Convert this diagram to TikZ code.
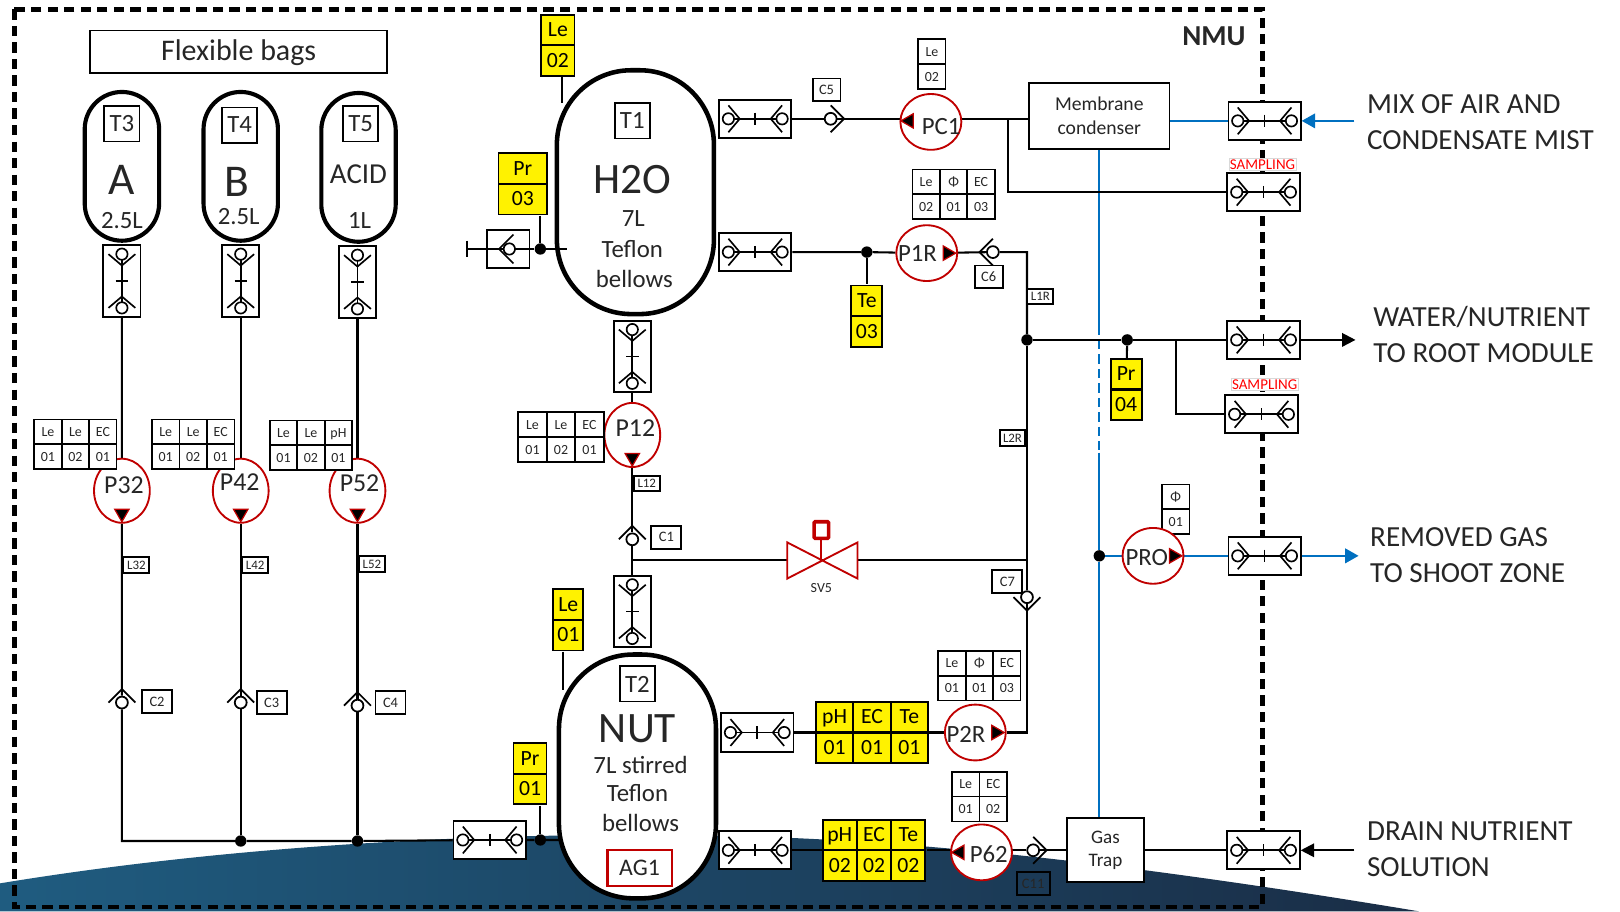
\documentclass[tikz,border=0pt]{standalone}
\usepackage{fontspec}
\setmainfont{Carlito}
\usetikzlibrary{arrows.meta,backgrounds,matrix,shapes.geometric}

\definecolor{inkdark}{HTML}{262626}
\definecolor{pumpred}{HTML}{C00000}
\definecolor{gasblue}{HTML}{0070C0}
\definecolor{hillleft}{HTML}{1F5C80}
\definecolor{hillmid}{HTML}{1E4C6E}
\definecolor{hillright}{HTML}{1A2D46}
\newcommand{\fsz}[1]{\fontsize{#1}{#1}\selectfont}

\newcommand{\couplingglyphh}{%
    \begin{scope}[shift={(path picture bounding box.center)},line width=1.6pt]
        \draw (-21,0) -- (21,0);
        \draw (0,-6) -- (0,6);
        \draw (-26,-13) -- (-15,0) -- (-26,13);
        \draw (26,-13) -- (15,0) -- (26,13);
        \draw[fill=white] (-26,0) circle[radius=5.5];
        \draw[fill=white] (26,0) circle[radius=5.5];
    \end{scope}}
\newcommand{\couplingglyphv}{%
    \begin{scope}[shift={(path picture bounding box.center)},line width=1.6pt]
        \draw (0,-21) -- (0,21);
        \draw (-6,0) -- (6,0);
        \draw (-13,-26) -- (0,-15) -- (13,-26);
        \draw (-13,26) -- (0,15) -- (13,26);
        \draw[fill=white] (0,-26) circle[radius=5.5];
        \draw[fill=white] (0,26) circle[radius=5.5];
    \end{scope}}
\newcommand{\checkvalve}[3]{%
    \node[checkball] (#1) at (#2) {};
    \draw[line width=1.7pt,shift={(#1)},rotate=#3] (0,-13) -- (13,0) -- (0,13);}

\tikzset{
    pipe/.style={line width=2pt},
    gaspipe/.style={line width=2.2pt,draw=gasblue},
    framedash/.style={line width=4.4pt,dash pattern=on 10pt off 6pt},
    outbox/.style={draw,fill=white,line width=1.8pt,inner sep=0pt},
    couplingh/.style={outbox,minimum width=70pt,minimum height=37pt,path picture={\couplingglyphh}},
    couplingv/.style={outbox,minimum width=36pt,minimum height=69pt,path picture={\couplingglyphv}},
    checkball/.style={circle,draw,fill=white,line width=1.7pt,minimum size=11.5pt,inner sep=0pt},
    junction/.style={circle,fill=black,minimum size=11pt,inner sep=0pt},
    tankbig/.style={draw,fill=white,line width=4.4pt,rounded corners=72pt,minimum width=152pt,minimum height=236pt},
    bag/.style={draw,fill=white,line width=4pt,rounded corners=36pt,minimum width=72pt,minimum height=144pt},
    pump/.style={ellipse,draw=pumpred,fill=white,line width=1.8pt,inner sep=0pt},
    pumptall/.style={pump,minimum width=54pt,minimum height=62pt},
    pumpround/.style={pump,minimum width=59pt,minimum height=54pt},
    pumpmark/.style={regular polygon,regular polygon sides=3,draw=pumpred,fill=black,line width=1.2pt,inner sep=0pt,minimum size=16pt,shape border rotate=#1},
    txt/.style={inner sep=0pt,text=inkdark,font=\fsz{#1}},
    tanktag/.style={outbox,text=inkdark,minimum size=34pt,font=\fsz{24}},
    tag/.style={outbox,text=inkdark,minimum width=29pt,minimum height=22pt,font=\fsz{14}},
    linetag/.style={outbox,text=inkdark,minimum width=25pt,minimum height=15pt,font=\fsz{12.5}},
    sidetext/.style={anchor=west,align=left,inner sep=0pt,text=inkdark,font=\fontsize{28.2}{35}\selectfont},
    sampling/.style={draw=black!15,line width=0.5pt,fill=white,text=red,inner sep=1pt,font=\fsz{14.5}},
    whitetab/.style={matrix of nodes,inner sep=0pt,column sep=-1.5pt,row sep=-1.5pt,
        nodes={draw,fill=white,line width=1.6pt,anchor=center,inner sep=0pt,text=inkdark,minimum width=#1,minimum height=24pt,
            text height=9pt,text depth=0pt,font=\fsz{13.5}}},
    whitetab/.default=26.5pt,
    yellowtab/.style={matrix of nodes,inner sep=0pt,column sep=-1.6pt,row sep=-1.6pt,
        nodes={draw,fill=yellow,line width=1.8pt,anchor=center,inner sep=0pt,text=black,minimum width=#1,minimum height=29.5pt,
            text height=13pt,text depth=0pt,font=\fsz{21}}},
    yellowtab/.default=32pt
}

\begin{document}
\begin{tikzpicture}[x=1pt,y=-1pt]
    \useasboundingbox (0,0) rectangle (1568,882);

    \node[outbox,minimum width=287pt,minimum height=41pt,font=\fsz{29},text=inkdark,text height=18pt,text depth=1pt] (bagstitle) at (231,50) {Flexible bags};
    \node[txt=28,font=\fsz{28}\bfseries] (nmu) at (1175,35) {NMU};

    \node[bag] (T3) at (118,161) {};
    \node[bag] (T4) at (233,161) {};
    \node[bag] (T5) at (347,162) {};
    \node[tanktag] (tagT3) at (118,120) {T3};
    \node[tanktag] (tagT4) at (232,121) {T4};
    \node[tanktag] (tagT5) at (349,120) {T5};
    \node[txt=44] (labA) at (118,174) {A};
    \node[txt=44] (labB) at (229,176) {B};
    \node[txt=28] (labAcid) at (347,169) {ACID};
    \node[txt=24] (volA) at (118,213) {2.5L};
    \node[txt=24] (volB) at (231,210) {2.5L};
    \node[txt=24] (volAcid) at (348,213) {1L};
    \node[couplingv] (cplT3) at (118,272) {};
    \node[couplingv] (cplT4) at (233,272) {};
    \node[couplingv] (cplT5) at (346,273) {};

    \node[pumptall] (P32) at (118,475) {};
    \node[pumptall] (P42) at (233,475) {};
    \node[pumptall] (P52) at (346,475) {};
    \node[txt=25] (nameP32) at (120,470) {P32};
    \node[txt=25] (nameP42) at (232,467) {P42};
    \node[txt=25] (nameP52) at (348,468) {P52};
    \node[pumpmark=180] (markP32) at (118,497) {};
    \node[pumpmark=180] (markP42) at (233,497) {};
    \node[pumpmark=180] (markP52) at (346,497) {};
    \matrix (tabP32) [whitetab] at (73,430) {Le & Le & EC \\ 01 & 02 & 01 \\};
    \matrix (tabP42) [whitetab] at (187,430) {Le & Le & EC \\ 01 & 02 & 01 \\};
    \matrix (tabP52) [whitetab] at (301,431) {Le & Le & pH \\ 01 & 02 & 01 \\};
    \node[linetag] (L32) at (132,547) {L32};
    \node[linetag] (L42) at (247,547) {L42};
    \node[linetag] (L52) at (360,546) {L52};
    \checkvalve{C2v}{118,680}{90}
    \checkvalve{C3v}{233,680}{90}
    \checkvalve{C4v}{346,683}{90}
    \node[tag] (C2) at (152,679) {C2};
    \node[tag] (C3) at (263,680) {C3};
    \node[tag] (C4) at (378,680) {C4};
    \node[junction] (dotB) at (233,814) {};
    \node[junction] (dotC) at (346,814) {};
    \node[couplingh] (cplMain) at (474,813) {};
    \node[junction] (dotT2) at (523,813) {};
    \coordinate (cornerA) at (118,814);

    \node[tankbig] (T1) at (615,186) {};
    \node[tanktag] (tagT1) at (612,117) {T1};
    \node[txt=42] (labH2O) at (612,174) {H2O};
    \node[txt=24] (volT1) at (613,212) {7L};
    \node[txt=24] (matT1) at (612,241) {Teflon};
    \node[txt=24] (belT1) at (614,270) {bellows};
    \matrix (yLeB) [yellowtab] at (540,44) {Le \\ 02 \\};
    \matrix (yPrC) [yellowtab=47pt] at (506,178) {Pr \\ 03 \\};
    \node[outbox,minimum width=41pt,minimum height=36pt,path picture={
        \begin{scope}[shift={(path picture bounding box.center)},line width=1.6pt]
            \draw (-21,0) -- (21,0);
            \draw (5,-14) -- (-9,0) -- (5,14);
            \draw[fill=white] (1,0) circle[radius=5.5];
        \end{scope}}] (cplVent) at (492,241) {};
    \coordinate (ventEnd) at (452,241);
    \node[junction] (dotT1) at (523,241) {};
    \coordinate (stubT1) at (549,241);
    \coordinate (leBend) at (544,100);
    \draw[pipe] (ventEnd) -- (cplVent);
    \draw[pipe] (452,233) -- (452,249);
    \draw[pipe] (dotT1) -- (stubT1);
    \draw[pipe] (yLeB.south -| leBend) -- (leBend);

    \node[couplingh] (cplT1a) at (731,115) {};
    \node[couplingh] (cplT1b) at (731,244) {};
    \checkvalve{C5v}{804,115}{0}
    \node[tag,minimum width=27pt] (C5) at (800,87) {C5};
    \node[pumpround] (PC1) at (901,118) {};
    \node[txt=24] (namePC1) at (911,122) {PC1};
    \node[pumpmark=90] (markPC1) at (880,117) {};
    \matrix (tabPC1) [whitetab] at (902,62) {Le \\ 02 \\};
    \node[outbox,minimum width=136pt,minimum height=64pt,align=center,text=inkdark,font=\fontsize{19}{23}\selectfont] (cond) at (1064,112) {Membrane\\condenser};
    \node[junction] (dotTe) at (839,244) {};
    \matrix (yTeC) [yellowtab=30pt] at (839,306) {Te \\ 03 \\};
    \node[pumpround] (P1R) at (897,245) {};
    \node[txt=24] (nameP1R) at (888,245) {P1R};
    \node[pumpmark=270] (markP1R) at (917,245) {};
    \matrix (tabP1R) [whitetab] at (923,188) {Le & Φ & EC \\ 02 & 01 & 03 \\};
    \checkvalve{C6v}{961,244}{180}
    \node[tag,minimum width=27pt] (C6) at (957,268) {C6};
    \coordinate (cornerR) at (994,244);
    \node[linetag] (L1R) at (1007,287) {L1R};
    \node[junction] (dotR) at (994,329) {};
    \node[linetag] (L2R) at (980,424) {L2R};

    \node[couplingv] (cplT1c) at (612,345) {};
    \node[pumptall] (P12) at (612,421) {};
    \node[txt=25] (nameP12) at (615,414) {P12};
    \node[pumpmark=180] (markP12) at (612,443) {};
    \matrix (tabP12) [whitetab=27.5pt] at (543,423) {Le & Le & EC \\ 01 & 02 & 01 \\};
    \node[linetag] (L12) at (626,468) {L12};
    \checkvalve{C1v}{612,522}{90}
    \node[tag] (C1) at (645,520) {C1};
    \coordinate (teeSV) at (612,542);
    \coordinate (teeRight) at (994,542);
    \coordinate (SV5) at (795,542);
    \draw[fill=white,draw=pumpred,line width=1.8pt] (762,525) -- (830,560) -- (830,525) -- (762,560) -- cycle;
    \node[draw=pumpred,fill=white,line width=3.4pt,rounded corners=1pt,minimum width=14pt,minimum height=16pt,inner sep=0pt] (SV5head) at (795,513) {};
    \draw[draw=pumpred,line width=1.8pt] (SV5head) -- (SV5);
    \node[txt=13.5] (nameSV5) at (795,569) {SV5};
    \checkvalve{C7v}{994,578}{270}
    \node[tag] (C7) at (975,563) {C7};
    \node[couplingv] (cplT2) at (612,592) {};

    \node[tankbig] (T2) at (617,751.5) {};
    \node[tanktag] (tagT2) at (617,662) {T2};
    \node[txt=42] (labNUT) at (617,705) {NUT};
    \node[txt=24] (volT2) at (620,740) {7L stirred};
    \node[txt=24] (matT2) at (617,768) {Teflon};
    \node[txt=24] (belT2) at (620,797) {bellows};
    \node[draw=pumpred,fill=white,line width=2pt,minimum width=62pt,minimum height=35pt,inner sep=0pt,text=inkdark,font=\fsz{23}] (AG1) at (619,840) {AG1};
    \matrix (yLeA) [yellowtab=29pt] at (550,600) {Le \\ 01 \\};
    \matrix (yPrA) [yellowtab] at (513,749) {Pr \\ 01 \\};
    \coordinate (leAend) at (545,668);
    \draw[pipe] (yLeA.south -| leAend) -- (leAend);

    \node[couplingh] (cplT2a) at (733,709) {};
    \node[couplingh] (cplT2b) at (731,823) {};
    \matrix (yT2a) [yellowtab=36pt] at (844,709) {pH & EC & Te \\ 01 & 01 & 01 \\};
    \matrix (yT2b) [yellowtab=33pt] at (846,823) {pH & EC & Te \\ 02 & 02 & 02 \\};
    \node[pumpround] (P2R) at (944,709) {};
    \node[txt=24] (nameP2R) at (935,711) {P2R};
    \node[pumpmark=270] (markP2R) at (964,709) {};
    \matrix (tabP2R) [whitetab] at (948,654) {Le & Φ & EC \\ 01 & 01 & 03 \\};
    \coordinate (cornerS) at (994,709);
    \node[pumpround] (P62) at (950,825) {};
    \node[txt=24] (nameP62) at (957,827) {P62};
    \node[pumpmark=90] (markP62) at (929,825) {};
    \matrix (tabP62) [whitetab] at (948,771) {Le & EC \\ 01 & 02 \\};
    \checkvalve{C11v}{1000,823}{0}
    \node[draw,line width=1.8pt,minimum width=32pt,minimum height=22pt,inner sep=0pt,text=inkdark,font=\fsz{14}] (C11) at (1000,855) {C11};
    \node[outbox,minimum width=74pt,minimum height=62pt,align=center,text=inkdark,font=\fontsize{18.5}{23}\selectfont] (gas) at (1070,823) {Gas\\Trap};

    \node[couplingh] (cplMix) at (1224,117) {};
    \node[couplingh] (cplSampA) at (1223,186) {};
    \node[couplingh] (cplRoot) at (1223,329) {};
    \node[couplingh] (cplSampB) at (1221,401) {};
    \node[couplingh] (cplShoot) at (1224,538) {};
    \node[couplingh] (cplDrain) at (1223,823) {};
    \node[sampling] (sampA) at (1222,159) {SAMPLING};
    \node[sampling] (sampB) at (1224,372) {SAMPLING};
    \node[junction] (dotPr) at (1091,329) {};
    \matrix (yPrB) [yellowtab=30pt] at (1090,377) {Pr \\ 04 \\};
    \coordinate (teeSamp) at (1138,329);
    \coordinate (teeCond) at (976,115);
    \matrix (tabPRO) [whitetab] at (1138,493) {Φ \\ 01 \\};
    \node[pumpround] (PRO) at (1116,538) {};
    \node[txt=24] (namePRO) at (1110,540) {PRO};
    \node[pumpmark=270] (markPRO) at (1136,538) {};
    \node[junction] (dotGas) at (1064,538) {};
    \coordinate (gasDashA) at (1064,315);
    \coordinate (gasDashB) at (1064,438);

    \coordinate (inMix) at (1311,117);
    \coordinate (outRoot) at (1312,329);
    \coordinate (outShoot) at (1315,538);
    \coordinate (inDrain) at (1311,823);
    \node[sidetext] (textMix) at (1323,118) {MIX OF AIR AND\\CONDENSATE  MIST};
    \node[sidetext] (textRoot) at (1329,324) {WATER/NUTRIENT\\TO ROOT MODULE};
    \node[sidetext] (textShoot) at (1326,537) {REMOVED GAS\\TO SHOOT ZONE};
    \node[sidetext] (textDrain) at (1323,822) {DRAIN NUTRIENT\\SOLUTION};

    \begin{scope}[on background layer]
        \shade[left color=hillleft,middle color=hillmid,right color=hillright] (0,882) -- (0,855) .. controls (200,822) and (420,808) .. (620,808) .. controls (800,808) and (1000,820) .. (1373,882) -- cycle;
        \draw[framedash] (14,9) rectangle (1222,878);

        \draw[pipe] (cplT3) -- (P32) -- (C2v) -- (cornerA) -- (dotB) -- (dotC) -- (cplMain) -- (dotT2) -- (dotT2 -| T2);
        \draw[pipe] (cplT4) -- (P42) -- (C3v) -- (dotB);
        \draw[pipe] (cplT5) -- (P52) -- (C4v) -- (dotC);
        \draw[pipe] (yPrC.south -| dotT1) -- (dotT1) -- (cplVent);
        \draw[pipe] (yPrA.south -| dotT2) -- (dotT2);

        \draw[gaspipe] (cond) -- (gasDashA);
        \draw[gaspipe,dash pattern=on 9pt off 5pt] (gasDashA) -- (gasDashB);
        \draw[gaspipe] (gasDashB) -- (dotGas) -- (dotGas |- gas.north);
        \draw[gaspipe] (dotGas) -- (PRO) -- (cplShoot);
        \draw[gaspipe,-{Triangle[length=13pt,width=14pt]}] (cplShoot) -- (outShoot);
        \draw[gaspipe] (cond.east |- cplMix) -- (cplMix);
        \draw[gaspipe,-{Triangle[length=13pt,width=14pt]}] (inMix) -- (cplMix);

        \draw[pipe] (cplT1a) -- (C5v) -- (C5v -| PC1) -- (C5v -| cond.west);
        \draw[pipe] (teeCond) |- (cplSampA);
        \draw[pipe] (cplT1b) -- (dotTe) -- (P1R) -- (C6v) -- (cornerR) -- (dotR);
        \draw[pipe] (dotTe) -- (yTeC);
        \draw[pipe] (dotR) -- (dotPr) -- (cplRoot);
        \draw[pipe,-{Triangle[length=13pt,width=13pt]}] (cplRoot) -- (outRoot);
        \draw[pipe] (dotPr) -- (yPrB);
        \draw[pipe] (teeSamp) |- (cplSampB);
        \draw[pipe] (dotR) -- (C7v) -- (cornerS) -- (P2R) -- (yT2a) -- (cplT2a);

        \draw[pipe] (cplT1c) -- (P12) -- (C1v) -- (cplT2);
        \draw[pipe] (teeSV) -- (SV5) -- (teeRight);

        \draw[pipe] (cplT2b) -- (yT2b) -- (yT2b -| P62) -- (C11v) -- (gas) -- (cplDrain);
        \draw[pipe,-{Triangle[length=13pt,width=13pt]}] (inDrain) -- (cplDrain);
    \end{scope}
\end{tikzpicture}
\end{document}
